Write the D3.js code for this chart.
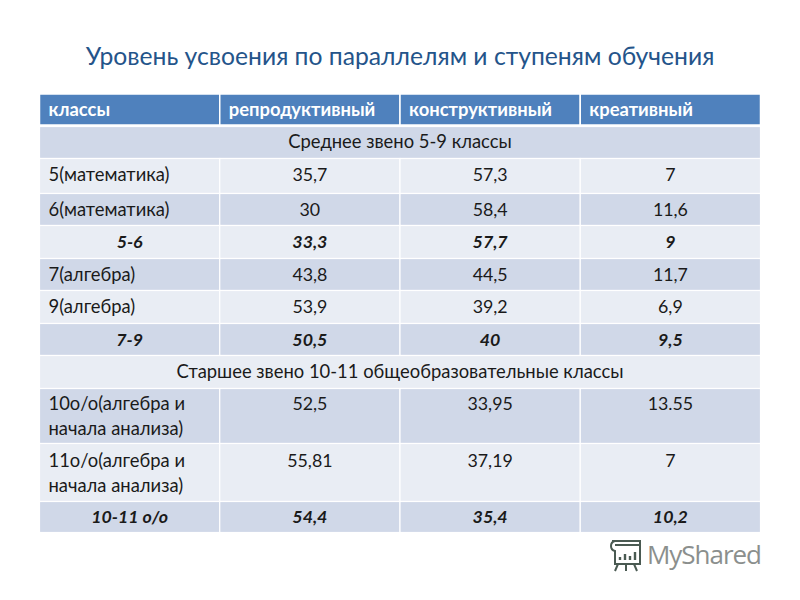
<!DOCTYPE html>
<html><head><meta charset="utf-8">
<script src="https://cdnjs.cloudflare.com/ajax/libs/d3/7.8.5/d3.min.js"></script>
<style>html,body{margin:0;background:#fff}svg{display:block}</style></head>
<body><svg id="c" width="800" height="600"></svg>
<script>
const title = "Уровень усвоения по параллелям и ступеням обучения";
const columns = ["классы","репродуктивный","конструктивный","креативный"];
const rowKeys = ["s1","r5","r6","a56","r7","r9","a79","s2","r10","r11","a1011"];
const rowKinds = ["section","plain","plain","total","plain","plain","total","section","plain","plain","total"];
const rowLabels = [
  ["Среднее звено 5-9 классы"],["5(математика)"],["6(математика)"],["5-6"],["7(алгебра)"],["9(алгебра)"],["7-9"],
  ["Старшее звено 10-11 общеобразовательные классы"],
  ["10о/о(алгебра и","начала анализа)"],["11о/о(алгебра и","начала анализа)"],["10-11 о/о"]];
const reproductive = [null,"35,7","30","33,3","43,8","53,9","50,5",null,"52,5","55,81","54,4"];
const constructive = [null,"57,3","58,4","57,7","44,5","39,2","40",null,"33,95","37,19","35,4"];
const creative = [null,"7","11,6","9","11,7","6,9","9,5",null,"13.55","7","10,2"];

const FONT = "Lato, Carlito, 'Open Sans', sans-serif";
const svg = d3.select("#c");
const bg = {dark:"#d0d8e8", light:"#e9edf4"};
svg.append("text").attr("x",400).attr("y",65).attr("text-anchor","middle")
  .attr("font-family",FONT).attr("font-size",24.7).attr("fill","#24548a").text(title);

const x = d3.scaleBand().domain(d3.range(4)).range([39.5,760.5]).padding(0);
const edges = [126.5,158.5,193.5,225.5,258.5,290.5,323.5,355.5,388.5,443.5,501.5,532.5];
const rowTop = i => edges[i], rowBottom = i => edges[i+1];
const fills = [bg.dark,bg.light,bg.dark,bg.light,bg.dark,bg.light,bg.dark,bg.light,bg.dark,bg.light,bg.dark];
const textY = [142,175,210,242,275,307,340,372,404,461,517];
const TEXT_SIZE = 18.4, NUM_SIZE = 17.8;

// header
svg.selectAll("rect.h").data(columns).join("rect").attr("class","h")
  .attr("x",(d,i)=>x(i)).attr("y",94).attr("width",x.bandwidth()).attr("height",31)
  .attr("fill","#4f81bd").attr("stroke","#fff").attr("stroke-width",1.5);
svg.selectAll("text.h").data(columns).join("text").attr("class","h")
  .attr("x",(d,i)=>x(i)+9).attr("y",116).attr("font-family",FONT).attr("font-weight",700)
  .attr("font-size",TEXT_SIZE).attr("fill","#fff").text(d=>d);

const rows = svg.selectAll("g.row").data(rowKeys).join("g").attr("class","row");
rows.each(function(k,i){
  const g = d3.select(this), kind = rowKinds[i];
  const cols = kind==="section" ? [[0,4]] : [[0,1],[1,1],[2,1],[3,1]];
  cols.forEach(([c,n])=>{
    g.append("rect").attr("x",x(c)).attr("y",rowTop(i)).attr("width",x.bandwidth()*n)
     .attr("height",rowBottom(i)-rowTop(i)).attr("fill",fills[i]).attr("stroke","#fff").attr("stroke-width",1.2);
  });
  const t=(px,py,s,anchor,size)=>g.append("text").attr("x",px).attr("y",py+6).attr("text-anchor",anchor)
     .attr("font-family",FONT).attr("font-size",size).attr("fill","#1a1a1a")
     .attr("font-weight",kind==="total"?700:400).attr("font-style",kind==="total"?"italic":"normal").text(s);
  if(kind==="section"){ t(400,textY[i],rowLabels[i][0],"middle",TEXT_SIZE); return; }
  if(kind==="total") t(x(0)+x.bandwidth()/2,textY[i],rowLabels[i][0],"middle",NUM_SIZE);
  else rowLabels[i].forEach((s,j)=>t(x(0)+9,textY[i]+j*25,s,"start",TEXT_SIZE));
  [reproductive,constructive,creative].forEach((arr,c)=>t(x(c+1)+x.bandwidth()/2,textY[i],arr[i],"middle",NUM_SIZE));
});

// watermark
const wm = svg.append("g").attr("fill","none").attr("stroke","#4a5a52").attr("stroke-width",2);
wm.append("path").attr("d","M612 541h28v4M615 541q-4 1-4 5t4 5v13h25v-19h-25");
wm.append("path").attr("d","M618 564l-3 7M626 564v7M634 564l3 7");
wm.append("path").attr("stroke-width",2.4).attr("d","M620 560v-3M625 560v-6M630 560v-4M635 560v-8");
svg.append("text").attr("x",647).attr("y",564).attr("font-family","'Open Sans', sans-serif")
  .attr("font-size",26).attr("fill","#8b8f8d").attr("textLength",115).text("MyShared");
</script></body></html>
